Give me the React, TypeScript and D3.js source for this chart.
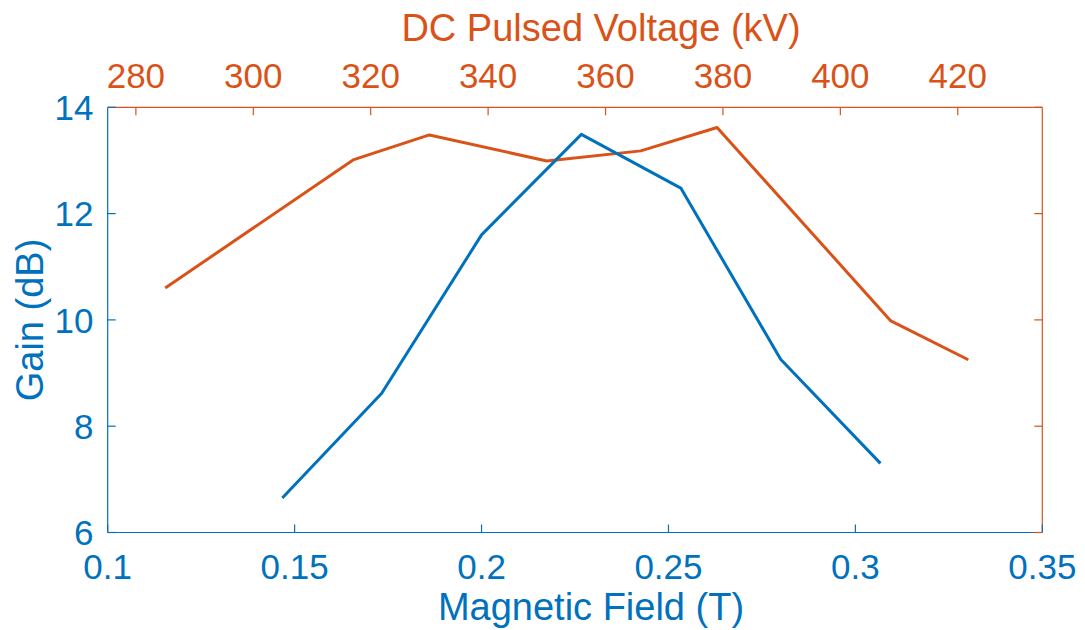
import React from 'react';
import * as d3 from 'd3';

// blue series: gain vs magnetic field
const fieldT = [0.1467, 0.1733, 0.2, 0.2267, 0.2533, 0.28, 0.3067];
const gainField = [6.65, 8.62, 11.6, 13.49, 12.48, 9.26, 7.3];

// orange series: gain vs DC pulsed voltage
const voltageKV = [285, 317, 330, 350, 366, 379, 408.6, 421.8];
const gainVoltage = [10.6, 13.01, 13.48, 12.99, 13.18, 13.62, 9.98, 9.25];

const fieldTicks = [0.1, 0.15, 0.2, 0.25, 0.3, 0.35];
const voltTicks = [280, 300, 320, 340, 360, 380, 400, 420];
const gainTicks = [6, 8, 10, 12, 14];

const BLUE = '#0072BD';
const ORANGE = '#D95319';
const FONT = '"Liberation Sans", Arial, Helvetica, sans-serif';

function App() {
    const width = 1085;
    const height = 630;
    const left = 107.7, right = 1042.3, top = 107.3, bottom = 532.5;
    const tick = 8;

    const x = d3.scaleLinear().domain([0.1, 0.35]).range([left, right]);
    const xTop = d3.scaleLinear().domain([275.2, 434.4]).range([left, right]);
    const y = d3.scaleLinear().domain([6, 14]).range([bottom, top]);

    const blueLine = d3.line<number>()
        .x((d, i) => x(fieldT[i]))
        .y(d => y(d));
    const orangeLine = d3.line<number>()
        .x((d, i) => xTop(voltageKV[i]))
        .y(d => y(d));

    return (
        <svg width={width} height={height} style={{ position: 'absolute', left: 0, top: 0 }}
            fontFamily={FONT}>
            <rect width={width} height={height} fill="#fff" />

            {/* data lines */}
            <path d={orangeLine(gainVoltage) || ''} fill="none" stroke={ORANGE} strokeWidth={3} strokeLinejoin="round" />
            <path d={blueLine(gainField) || ''} fill="none" stroke={BLUE} strokeWidth={3} strokeLinejoin="round" />

            {/* axis lines */}
            <line x1={left} x2={right} y1={top} y2={top} stroke={ORANGE} strokeWidth={1.2} />
            <line x1={right} x2={right} y1={top} y2={bottom} stroke={ORANGE} strokeWidth={1.2} />
            <line x1={left} x2={right} y1={bottom} y2={bottom} stroke={BLUE} strokeWidth={1.2} />
            <line x1={left} x2={left} y1={top} y2={bottom} stroke={BLUE} strokeWidth={1.2} />

            {/* bottom axis */}
            {fieldTicks.map(t => (
                <g key={'b' + t}>
                    <line x1={x(t)} x2={x(t)} y1={bottom} y2={bottom - tick} stroke={BLUE} strokeWidth={1.2} />
                    <text x={x(t)} y={579} textAnchor="middle" fontSize={35} fill={BLUE}>{t}</text>
                </g>
            ))}
            <text x={591} y={620} textAnchor="middle" fontSize={38} fill={BLUE}>Magnetic Field (T)</text>

            {/* top axis */}
            {voltTicks.map(t => (
                <g key={'t' + t}>
                    <line x1={xTop(t)} x2={xTop(t)} y1={top} y2={top + tick} stroke={ORANGE} strokeWidth={1.2} />
                    <text x={xTop(t)} y={88} textAnchor="middle" fontSize={35} fill={ORANGE}>{t}</text>
                </g>
            ))}
            <text x={601} y={40.5} textAnchor="middle" fontSize={38} fill={ORANGE}>DC Pulsed Voltage (kV)</text>

            {/* left & right axis */}
            {gainTicks.map(t => (
                <g key={'l' + t}>
                    <line x1={left} x2={left + tick} y1={y(t)} y2={y(t)} stroke={BLUE} strokeWidth={1.2} />
                    <line x1={right} x2={right - tick} y1={y(t)} y2={y(t)} stroke={ORANGE} strokeWidth={1.2} />
                    <text x={93.5} y={y(t)} dy="0.36em" textAnchor="end" fontSize={35} fill={BLUE}>{t}</text>
                </g>
            ))}
            <text transform="translate(43,320) rotate(-90)" textAnchor="middle" fontSize={38} fill={BLUE}>Gain (dB)</text>
        </svg>
    );
}

export default App;
